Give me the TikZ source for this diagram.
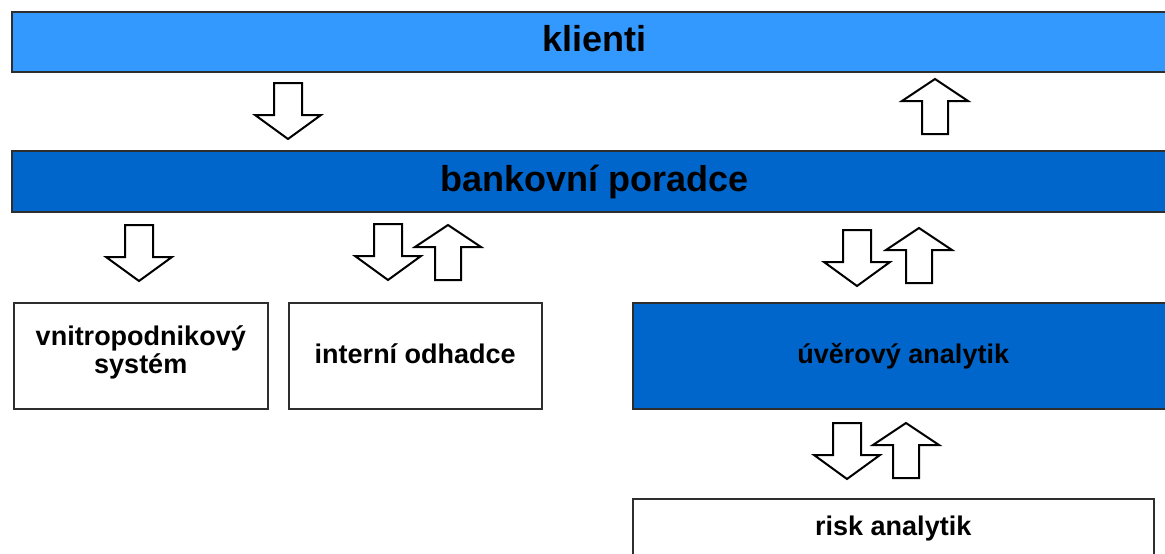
\documentclass[tikz,border=0pt]{standalone}
\usepackage{fontspec}
\setmainfont{Liberation Sans}
\definecolor{lightblue}{HTML}{3399FF}
\definecolor{darkblue}{HTML}{0066CC}
\definecolor{edge}{HTML}{2E2E2E}
\begin{document}
\begin{tikzpicture}[x=1pt,y=-1pt,
  box/.style={draw=edge,line width=1.5pt,inner sep=0pt,anchor=north west,
    font=\bfseries\fontsize{27}{28}\selectfont,align=center,
    text height=20pt,text depth=4pt},
  bigbox/.style={box,font=\bfseries\fontsize{36}{40}\selectfont,
    text height=26pt,text depth=6pt},
  blk/.style={draw=black,fill=white,line width=2pt,line join=miter},
  dnarrow/.pic={\path[blk] (-14,0)--(14,0)--(14,32)--(33,32)--(0,56)--(-33,32)--(-14,32)--cycle;},
  uparrow/.pic={\path[blk] (-13,0)--(13,0)--(13,-33)--(33,-33)--(0,-55)--(-33,-33)--(-13,-33)--cycle;}
]
\useasboundingbox (0,0) rectangle (1165,554);
\clip (0,0) rectangle (1165,554);
\fill[white] (0,0) rectangle (1165,554);
% boxes
\node[bigbox,fill=lightblue,minimum width=1165pt,minimum height=60pt] (kl) at (11,11) {klienti};
\node[bigbox,fill=darkblue,minimum width=1165pt,minimum height=61pt] (bp) at (11,150) {bankovní poradce};
\node[box,fill=white,minimum width=254pt,minimum height=106pt,text height=40pt,text depth=4pt] (vs) at (13,302) {vnitropodnikový\\systém};
\node[box,fill=white,minimum width=253pt,minimum height=106pt] (io) at (288,302) {interní odhadce};
\node[box,fill=darkblue,minimum width=541pt,minimum height=106pt] (ua) at (632,302) {úvěrový analytik};
\node[box,fill=white,minimum width=521pt,minimum height=58pt] (ra) at (632,498) {risk analytik};
% block arrows
\pic at (288,83) {dnarrow};
\pic at (935,134) {uparrow};
\pic at (139,225) {dnarrow};
\pic at (388,224) {dnarrow};
\pic at (448,280) {uparrow};
\pic at (857,230) {dnarrow};
\pic at (919,283) {uparrow};
\pic at (847,423) {dnarrow};
\pic at (906,478) {uparrow};
\end{tikzpicture}
\end{document}
